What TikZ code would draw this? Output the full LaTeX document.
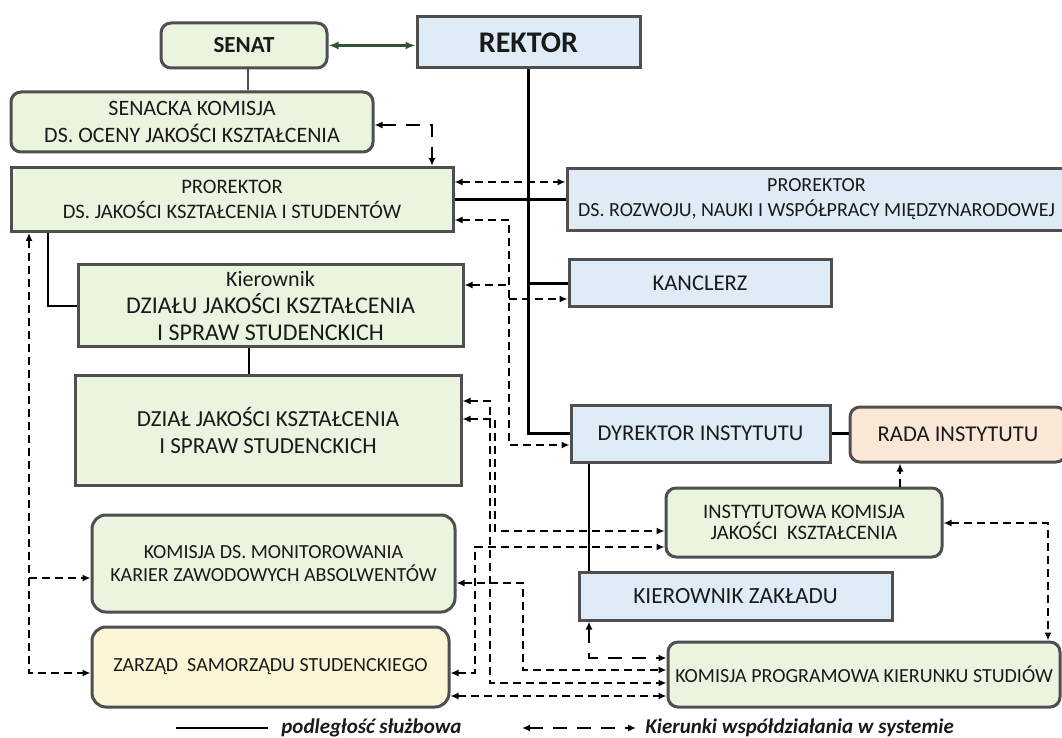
\documentclass[tikz,border=0pt]{standalone}
\usepackage{fontspec}
\setmainfont{Carlito}
\usepackage{xcolor}
\usepackage{tikz}
\usetikzlibrary{arrows.meta}

\definecolor{boxgreen}{HTML}{EBF4DF}
\definecolor{boxblue}{HTML}{DFECF7}
\definecolor{boxorange}{HTML}{FBE7D6}
\definecolor{boxyellow}{HTML}{FAF6D6}
\definecolor{boxline}{HTML}{4F4F4F}
\definecolor{boxtext}{HTML}{1A1A1A}
\definecolor{senatline}{HTML}{2F5630}

\tikzset{
  unit/.style={draw=boxline, line width=1.5pt, inner sep=0pt, align=center, text=boxtext, font=\fontsize{10}{12.5}\selectfont},
  green unit/.style={unit, fill=boxgreen},
  blue unit/.style={unit, fill=boxblue},
  round unit/.style={rounded corners=5pt},
  big text/.style={font=\fontsize{11.3}{13.5}\selectfont},
  duty/.style={draw=black, line width=1.4pt},
  coop/.style={draw=black, line width=0.75pt, dash pattern=on 4pt off 2.5pt},
  coop thick/.style={draw=black, line width=1.3pt, dash pattern=on 7pt off 5pt},
  legend/.style={anchor=west, inner sep=0pt, text=boxtext, font=\bfseries\itshape\fontsize{10.5}{12}\selectfont},
}

\begin{document}
\begin{tikzpicture}[x=0.5pt, y=-0.5pt, >={Latex[length=4pt, width=3.5pt]}]
        \path[use as bounding box, fill=white] (0,0) rectangle (1062,738);
        \clip (0,0) rectangle (1062,738);

        % jednostki
        \node[green unit, round unit, minimum width=83pt, minimum height=22.5pt, font=\bfseries\fontsize{11.5}{13}\selectfont] (senat) at (244,45.5) {SENAT};
        \node[blue unit, minimum width=111.5pt, minimum height=25.5pt, font=\bfseries\fontsize{15}{17}\selectfont] (rektor) at (528.5,42.5) {REKTOR};
        \node[green unit, round unit, minimum width=181pt, minimum height=30pt, font=\fontsize{11}{13.5}\selectfont] (senacka) at (192,122) {SENACKA KOMISJA\\DS. OCENY JAKOŚCI KSZTAŁCENIA};
        \node[green unit, minimum width=221pt, minimum height=32pt, font=\fontsize{10.3}{12.5}\selectfont] (prjk) at (232,199.5) {PROREKTOR\\DS. JAKOŚCI KSZTAŁCENIA I STUDENTÓW};
        \node[blue unit, minimum width=249.5pt, minimum height=31pt] (prrn) at (816.5,199.5) {PROREKTOR\\DS. ROZWOJU, NAUKI I WSPÓŁPRACY MIĘDZYNARODOWEJ};
        \node[green unit, minimum width=192.5pt, minimum height=41pt, font=\fontsize{12}{13.5}\selectfont] (kdzialu) at (270.5,306) {{\fontsize{11}{13}\selectfont Kierownik}\\DZIAŁU JAKOŚCI KSZTAŁCENIA\\I SPRAW STUDENCKICH};
        \node[green unit, minimum width=193pt, minimum height=55pt, font=\fontsize{11.5}{13.5}\selectfont] (dzial) at (268,430) {DZIAŁ JAKOŚCI KSZTAŁCENIA\\I SPRAW STUDENCKICH};
        \node[blue unit, big text, minimum width=131pt, minimum height=23.5pt] (kanclerz) at (700,283.5) {KANCLERZ};
        \node[blue unit, big text, minimum width=129.5pt, minimum height=28.5pt] (dyrektor) at (700.5,433.5) {DYREKTOR INSTYTUTU};
        \node[unit, round unit, big text, fill=boxorange, minimum width=108pt, minimum height=27.5pt] (rada) at (958,434.5) {RADA INSTYTUTU};
        \node[green unit, round unit, minimum width=138pt, minimum height=34.5pt, font=\fontsize{10.3}{10.8}\selectfont] (ikjk) at (804,522.5) {INSTYTUTOWA KOMISJA\\JAKOŚCI\ \ KSZTAŁCENIA};
        \node[blue unit, minimum width=156.5pt, minimum height=24pt, font=\fontsize{11.6}{13.5}\selectfont] (kz) at (735.5,596) {KIEROWNIK ZAKŁADU};
        \node[green unit, rounded corners=7pt, minimum width=181.5pt, minimum height=48.5pt, font=\fontsize{10}{11.5}\selectfont] (kmon) at (273.5,563.5) {KOMISJA DS. MONITOROWANIA\\KARIER ZAWODOWYCH ABSOLWENTÓW};
        \node[unit, rounded corners=7pt, fill=boxyellow, minimum width=178.5pt, minimum height=40pt] (zarzad) at (270.5,667) {ZARZĄD\ \ SAMORZĄDU STUDENCKIEGO};
        \node[green unit, round unit, minimum width=196pt, minimum height=32.5pt] (kpks) at (864,674.5) {KOMISJA PROGRAMOWA KIERUNKU STUDIÓW};

        % podleglosc sluzbowa
        \path[draw, boxline, line width=0.9pt] (senat.south -| 248,0) -- (senacka.north -| 248,0);
        \path[draw, senatline, line width=1.4pt, <->, >={Latex[length=5pt, width=4pt]}] (senat.east) -- (senat.east -| rektor.west);
        \path[duty] (rektor.south) |- (dyrektor.west);
        \path[duty] (prjk.east) -- (prjk.east -| prrn.west);
        \path[duty] (rektor.south |- kanclerz.west) -- (kanclerz.west);
        \path[duty] (dyrektor.east) -- (dyrektor.east -| rada.west);
        \path[duty] (dyrektor.south -| 589,0) -- (kz.north -| 589,0);
        \path[duty] (prjk.south -| 48,0) |- (kdzialu.west);
        \path[duty, line width=1.1pt] (kdzialu.south -| 249,0) -- (dzial.north -| 249,0);

        % kierunki wspoldzialania
        \coordinate (busr) at (509,0);
        \coordinate (busl) at (29,0);
        \path[coop thick, <->] (senacka.east |- 0,125) -| (prjk.north -| 432,0);
        \path[coop, <->] (prjk.east |- 0,182) -- (prrn.west |- 0,182);
        \path[coop, <->] (prjk.east |- 0,220) -| (busr |- 0,445) -- (dyrektor.west |- 0,445);
        \path[coop, <-] (kdzialu.east |- 0,285) -- (busr |- 0,285);
        \path[coop, ->] (busr |- 0,299) -- (kanclerz.west |- 0,299);
        \path[coop, <->] (dzial.east |- 0,401) -| (490,683) -- (kpks.west |- 0,683);
        \path[coop, <->] (dzial.east |- 0,419) -| (495,531) -- (ikjk.west |- 0,531);
        \path[coop, <->] (zarzad.east |- 0,673) -| (475,547) -- (ikjk.west |- 0,547);
        \path[coop, <->] (kmon.east |- 0,583) -| (523,670) -- (kpks.west |- 0,670);
        \path[coop, <->] (zarzad.east |- 0,696) -- (kpks.west |- 0,696);
        \path[coop thick, <->] (kz.south -| 589,0) |- (kpks.west |- 0,658);
        \path[coop, <->] (prjk.south -| busl) |- (zarzad.west |- 0,673);
        \path[coop, ->] (busl |- 0,578) -- (kmon.west |- 0,578);
        \path[coop, ->] (ikjk.north -| 900,0) -- (rada.south -| 900,0);
        \path[coop, <->] (ikjk.east |- 0,523) -| (kpks.north -| 1048,0);

        % legenda
        \coordinate (lgdutyA) at (176,728);
        \coordinate (lgdutyB) at (268,728);
        \coordinate (lgcoopA) at (522,728);
        \coordinate (lgcoopB) at (636,728);
        \path[duty] (lgdutyA) -- (lgdutyB);
        \path[coop thick, <->] (lgcoopA) -- (lgcoopB);
        \node[legend] (lgduty) at (281,728) {podległość służbowa};
        \node[legend] (lgcoop) at (645,728) {Kierunki współdziałania w systemie};
    \end{tikzpicture}
\end{document}
